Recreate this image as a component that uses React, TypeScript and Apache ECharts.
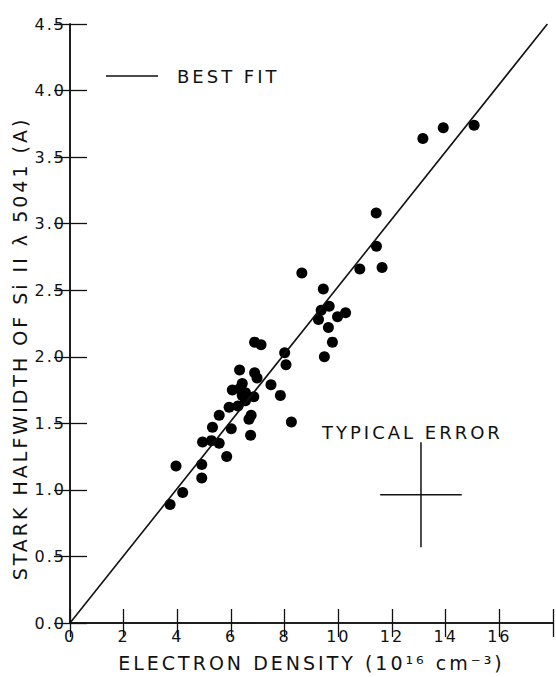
import React, { useEffect, useRef } from "react";
import * as echarts from "echarts";

// Electron density (10^16 cm^-3) and Stark halfwidth (A) of the measured points
const densityX = [3.73, 4.2, 3.95, 4.91, 4.91, 4.94, 5.27, 5.56, 5.84, 6.05, 6.32, 6.42, 6.54, 6.42, 6.6, 6.85, 6.54, 5.93, 6.26, 5.56, 6.75, 6.67, 5.31, 6.01, 6.73, 6.32, 6.88, 6.97, 7.49, 7.84, 8.25, 6.88, 7.12, 8.0, 8.05, 8.64, 9.44, 9.66, 9.36, 9.26, 9.97, 10.27, 9.63, 9.78, 9.48, 10.8, 11.63, 11.42, 11.41, 13.15, 13.91, 15.06];
const halfwidthY = [0.89, 0.98, 1.18, 1.09, 1.19, 1.36, 1.37, 1.35, 1.25, 1.75, 1.76, 1.8, 1.73, 1.71, 1.7, 1.7, 1.67, 1.62, 1.63, 1.56, 1.56, 1.53, 1.47, 1.46, 1.41, 1.9, 1.88, 1.84, 1.79, 1.71, 1.51, 2.11, 2.09, 2.03, 1.94, 2.63, 2.51, 2.38, 2.35, 2.28, 2.3, 2.33, 2.22, 2.11, 2.0, 2.66, 2.67, 2.83, 3.08, 3.64, 3.72, 3.74];

// Best fit line end points
const fitX = [0, 17.79];
const fitY = [0, 4.5];

// Typical error cross: centre and half sizes
const errCenter = [13.08, 0.963];
const errHalf = [1.52, 0.394];

const xTicks = [0, 2, 4, 6, 8, 10, 12, 14, 16];
const yTicks = ["0.0", "0.5", "1.0", "1.5", "2.0", "2.5", "3.0", "3.5", "4.0", "4.5"];

const FONT = "DejaVu Sans";
const INK = "#111";

function applySpacing(dom: HTMLElement) {
  dom.querySelectorAll("text").forEach((t) => {
    const s = (t.textContent || "").length;
    (t as SVGTextElement).style.letterSpacing = s <= 4 ? "2px" : "3px";
  });
}

export default function App() {
  const ref = useRef<HTMLDivElement>(null);
  useEffect(() => {
    if (!ref.current) return;
    const chart = echarts.init(ref.current, null, { renderer: "svg" });
    const scatterData = densityX.map((x, i) => [x, halfwidthY[i]]);
    const fitData = fitX.map((x, i) => [x, fitY[i]]);
    const hBar = [
      [errCenter[0] - errHalf[0], errCenter[1]],
      [errCenter[0] + errHalf[0], errCenter[1]],
    ];
    const vBar = [
      [errCenter[0], errCenter[1] - errHalf[1]],
      [errCenter[0], errCenter[1] + errHalf[1]],
    ];
    const axisLine = { show: true, lineStyle: { color: INK, width: 1.5 } };
    chart.setOption({
      animation: false,
      backgroundColor: "#fff",
      textStyle: { fontFamily: FONT, color: INK },
      grid: { left: 70, right: -2, top: 24, bottom: 52.5, containLabel: false },
      legend: {
        data: [{ name: "BEST FIT", icon: "rect" }],
        left: 106,
        top: 67,
        padding: 0,
        itemWidth: 52,
        itemHeight: 1.6,
        selectedMode: false,
        textStyle: { fontFamily: FONT, fontSize: 18, color: INK, padding: [0, 0, 0, 14] },
      },
      xAxis: [
        {
          type: "value",
          min: 0,
          max: 18,
          interval: 2,
          position: "bottom",
          axisLine,
          axisTick: { show: true, inside: true, length: 14, lineStyle: { color: INK, width: 1.3 } },
          axisLabel: {
            fontFamily: FONT,
            fontSize: 16,
            color: INK,
            margin: 5,
            formatter: (v: number) => (xTicks.indexOf(v) >= 0 ? String(v) : ""),
          },
          splitLine: { show: false },
          name: "ELECTRON DENSITY (10¹⁶ cm⁻³)",
          nameLocation: "middle",
          nameGap: 30,
          nameTextStyle: { fontFamily: FONT, fontSize: 19, color: INK },
        },
        {
          type: "value",
          min: 0,
          max: 18,
          interval: 2,
          position: "top",
          axisLine,
          axisTick: { show: true, inside: true, length: 14, lineStyle: { color: INK, width: 1.3 } },
          axisLabel: { show: false },
          splitLine: { show: false },
        },
      ],
      yAxis: [
        {
          type: "value",
          min: 0,
          max: 4.5,
          interval: 0.5,
          position: "left",
          axisLine,
          axisTick: { show: true, inside: true, length: 17, lineStyle: { color: INK, width: 1.3 } },
          axisLabel: {
            fontFamily: FONT,
            fontSize: 16,
            color: INK,
            margin: 4,
            formatter: (v: number) => yTicks[Math.round(v / 0.5)] ?? "",
          },
          splitLine: { show: false },
          name: "STARK HALFWIDTH OF Si II λ 5041 (A)",
          nameLocation: "middle",
          nameGap: 40,
          nameTextStyle: { fontFamily: FONT, fontSize: 19, color: INK, padding: [0, 50, 0, 0] },
        },
        {
          type: "value",
          min: 0,
          max: 4.5,
          interval: 0.5,
          position: "right",
          axisLine,
          axisTick: { show: true, inside: true, length: 16, lineStyle: { color: INK, width: 1.3 } },
          axisLabel: { show: false },
          splitLine: { show: false },
        },
      ],
      graphic: [
        {
          type: "text",
          left: 322,
          top: 423,
          style: { text: "TYPICAL ERROR", fontFamily: FONT, fontSize: 18, fill: INK },
        },
      ],
      series: [
        {
          name: "data",
          type: "scatter",
          data: scatterData,
          symbol: "circle",
          symbolSize: 11,
          itemStyle: { color: "#000", opacity: 1 },
          silent: true,
        },
        {
          name: "BEST FIT",
          type: "line",
          data: fitData,
          showSymbol: false,
          symbol: "none",
          lineStyle: { color: INK, width: 1.6 },
          itemStyle: { color: INK },
          silent: true,
        },
        {
          name: "err-h",
          type: "line",
          data: hBar,
          symbol: "none",
          lineStyle: { color: INK, width: 1.5 },
          silent: true,
        },
        {
          name: "err-v",
          type: "line",
          data: vBar,
          symbol: "none",
          lineStyle: { color: INK, width: 1.5 },
          silent: true,
        },
      ],
    });
    applySpacing(ref.current);
    const t = window.setTimeout(() => ref.current && applySpacing(ref.current), 0);
    return () => {
      window.clearTimeout(t);
      chart.dispose();
    };
  }, []);
  return (
    <div
      ref={ref}
      style={{ position: "fixed", left: 0, top: 0, width: 556, height: 677, background: "#fff" }}
    />
  );
}
